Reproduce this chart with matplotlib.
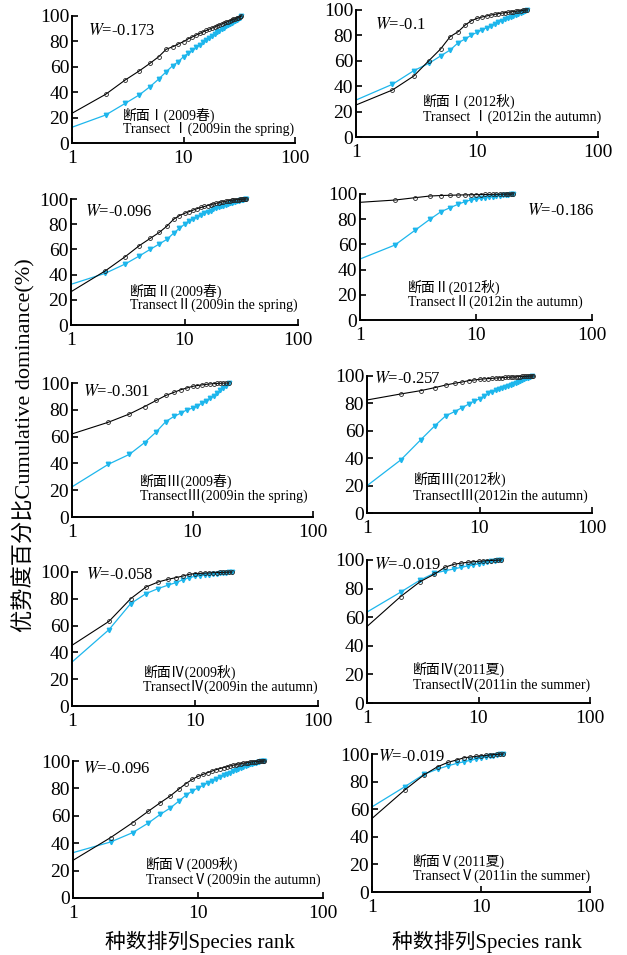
import numpy as np
import matplotlib.pyplot as plt

plt.rcParams['font.family'] = ['Liberation Serif', 'Noto Sans CJK SC']
plt.rcParams['mathtext.fontset'] = 'stix'

# ---- data: cumulative dominance (%) by species rank ----
black_1 = [23.4, 38.3, 49.6, 56.7, 62.7, 68.0, 73.8, 75.8, 78.0, 79.8, 82.0, 83.5, 85.0, 86.3, 87.5,
           88.6, 89.6, 90.5, 91.4, 92.2, 93.0, 93.7, 94.4, 95.0, 95.6, 96.2, 96.8, 97.3, 97.8, 98.3,
           98.8, 99.2, 100.0]
cyan_1 = [12.4, 22.0, 31.2, 37.8, 44.3, 50.4, 56.1, 60.9, 64.0, 68.0, 70.6, 73.0, 75.2, 77.3, 79.2,
          81.0, 82.7, 84.3, 85.8, 87.2, 88.5, 89.7, 90.8, 91.8, 92.8, 93.7, 94.6, 95.4, 96.2, 97.0,
          97.9, 98.8, 100.0]

black_2 = [25.2, 37.0, 48.0, 60.1, 69.3, 79.0, 83.0, 88.2, 91.6, 93.4, 94.5, 95.3, 96.0, 96.6, 97.1,
           97.5, 97.9, 98.2, 98.5, 98.8, 99.0, 99.3, 99.5, 99.7, 99.9, 100.0]
cyan_2 = [29.1, 41.5, 52.2, 58.0, 63.8, 68.5, 74.3, 77.2, 80.3, 82.4, 84.3, 86.0, 87.6, 89.0, 90.3,
          91.5, 92.6, 93.6, 94.5, 95.4, 96.3, 97.1, 97.9, 98.6, 99.3, 100.0]

black_3 = [26.4, 42.9, 54.2, 63.0, 68.8, 73.5, 78.5, 83.8, 86.8, 88.6, 90.0, 91.3, 92.4, 93.3, 94.1,
           94.8, 95.5, 96.1, 96.6, 97.1, 97.5, 97.9, 98.2, 98.5, 98.8, 99.0, 99.2, 99.4, 99.5, 99.6,
           99.7, 99.8, 99.9, 100.0, 100.0]
cyan_3 = [32.3, 41.0, 48.4, 54.8, 60.1, 64.3, 68.0, 72.8, 76.7, 79.9, 82.8, 84.5, 86.0, 87.4, 88.6,
          89.7, 90.7, 91.7, 92.6, 93.4, 94.1, 94.8, 95.4, 96.0, 96.5, 97.0, 97.5, 97.9, 98.3, 98.7,
          99.0, 99.3, 99.6, 99.8, 100.0]

black_4 = [93.4, 95.2, 97.1, 98.4, 98.8, 99.0, 99.2, 99.3, 99.4, 99.5, 99.6, 99.65, 99.7, 99.75,
           99.8, 99.85, 99.9, 99.93, 99.96, 99.98, 100.0]
cyan_4 = [48.4, 59.5, 71.4, 79.9, 86.0, 89.2, 91.8, 93.9, 95.2, 96.0, 96.6, 97.1, 97.5, 97.9, 98.3,
          98.6, 98.9, 99.2, 99.5, 99.8, 100.0]

black_5 = [62.0, 70.7, 76.9, 82.4, 87.0, 90.7, 93.0, 95.0, 96.3, 97.5, 98.1, 98.6, 99.0, 99.3, 99.5,
           99.7, 99.8, 99.9, 100.0, 100.0]
cyan_5 = [22.5, 39.3, 46.8, 55.5, 63.5, 71.2, 75.0, 77.5, 80.0, 81.2, 83.0, 85.0, 86.7, 88.7, 90.5,
          92.5, 94.5, 96.3, 98.0, 100.0]

black_6 = [82.5, 86.9, 89.3, 91.5, 93.4, 94.7, 95.6, 96.6, 97.1, 97.6, 97.9, 98.1, 98.3, 98.5, 98.7,
           98.85, 99.0, 99.1, 99.2, 99.3, 99.4, 99.5, 99.6, 99.7, 99.75, 99.8, 99.85, 99.9, 99.95, 100.0]
cyan_6 = [19.9, 38.8, 53.4, 63.6, 70.9, 74.0, 76.9, 79.4, 81.8, 83.2, 85.4, 87.4, 88.6, 89.6, 90.5,
          91.4, 92.2, 93.0, 93.7, 94.4, 95.1, 95.8, 96.5, 97.1, 97.7, 98.3, 98.9, 99.4, 100.0]

black_7 = [45.3, 63.2, 80.1, 88.8, 92.5, 94.5, 95.8, 97.0, 98.3, 98.8, 99.0, 99.2, 99.3, 99.45, 99.55,
           99.65, 99.75, 99.85, 99.95, 100.0]
cyan_7 = [32.8, 57.0, 76.4, 83.9, 87.6, 90.1, 92.1, 94.3, 95.8, 96.8, 97.3, 97.7, 98.1, 98.4, 98.7,
          99.0, 99.3, 99.5, 99.8, 100.0]

black_8 = [53.5, 74.4, 84.9, 90.0, 94.9, 97.0, 97.8, 98.4, 98.8, 99.1, 99.3, 99.5, 99.65, 99.8, 99.9,
           100.0]
cyan_8 = [63.6, 77.5, 86.0, 90.7, 92.5, 93.7, 94.9, 95.8, 96.6, 97.3, 97.9, 98.5, 99.0, 99.4, 99.7,
          100.0]

black_9 = [27.5, 44.1, 55.0, 63.3, 69.6, 74.5, 79.4, 83.5, 86.6, 88.8, 90.3, 91.6, 92.7, 93.7, 94.5,
           95.2, 95.8, 96.4, 96.9, 97.4, 97.8, 98.1, 98.4, 98.7, 98.9, 99.1, 99.3, 99.45, 99.6, 99.7,
           99.8, 99.9, 99.95, 100.0]
cyan_9 = [33.1, 40.9, 47.7, 54.7, 61.1, 65.7, 70.6, 75.0, 78.1, 80.3, 82.3, 84.0, 85.6, 87.0, 88.3,
          89.5, 90.6, 91.6, 92.5, 93.4, 94.2, 95.0, 95.7, 96.4, 97.0, 97.6, 98.1, 98.5, 98.9, 99.2,
          99.5, 99.7, 99.9, 100.0]

black_10 = [53.3, 74.0, 84.9, 90.8, 94.0, 95.7, 97.3, 97.8, 98.3, 98.7, 99.0, 99.3, 99.55, 99.75,
            99.9, 100.0]
cyan_10 = [61.7, 76.3, 85.3, 89.1, 91.5, 93.2, 94.4, 95.4, 96.3, 97.0, 97.7, 98.3, 98.8, 99.3, 99.7,
           100.0]

black_series = [black_1, black_2, black_3, black_4, black_5, black_6, black_7, black_8, black_9, black_10]
cyan_series = [cyan_1, cyan_2, cyan_3, cyan_4, cyan_5, cyan_6, cyan_7, cyan_8, cyan_9, cyan_10]

w_values = ["-0.173", "-0.1", "-0.096", "-0.186", "-0.301", "-0.257", "-0.058", "-0.019", "-0.096", "-0.019"]
cn_labels = ["断面Ⅰ(2009春)", "断面Ⅰ(2012秋)", "断面Ⅱ(2009春)", "断面Ⅱ(2012秋)", "断面Ⅲ(2009春)",
             "断面Ⅲ(2012秋)", "断面Ⅳ(2009秋)", "断面Ⅳ(2011夏)", "断面Ⅴ(2009秋)", "断面Ⅴ(2011夏)"]
en_labels = ["Transect Ⅰ(2009in the spring)", "Transect Ⅰ(2012in the autumn)",
             "TransectⅡ(2009in the spring)", "TransectⅡ(2012in the autumn)",
             "TransectⅢ(2009in the spring)", "TransectⅢ(2012in the autumn)",
             "TransectⅣ(2009in the autumn)", "TransectⅣ(2011in the summer)",
             "TransectⅤ(2009in the autumn)", "TransectⅤ(2011in the summer)"]

# ---- layout (pixels): left, right, y of 100, y of 0 ----
W_PX, H_PX = 627, 955
boxes = [(72, 295, 16, 143), (356, 598, 10, 137),
         (71, 298, 199, 325), (360, 592, 194, 320),
         (72, 313, 383, 517), (367, 592, 376, 513),
         (72, 318, 572, 706), (367, 590, 560, 703),
         (73, 323, 761, 898), (372, 590, 754, 892)]
# text anchors in axes coords: W label, label line 1, label line 2
w_pos = [(0.07, 0.88), (0.08, 0.88), (0.06, 0.9), (0.72, 0.865), (0.044, 0.93),
         (0.03, 0.98), (0.057, 0.975), (0.03, 0.965), (0.041, 0.944), (0.029, 0.98)]
lab_pos = [(0.23, 0.22, 0.108), (0.275, 0.283, 0.16), (0.26, 0.27, 0.159), (0.208, 0.256, 0.14),
           (0.282, 0.268, 0.155), (0.206, 0.248, 0.126), (0.29, 0.254, 0.142), (0.205, 0.238, 0.129),
           (0.292, 0.244, 0.129), (0.187, 0.223, 0.116)]

CYAN = '#1DB6EC'

fig = plt.figure(figsize=(W_PX / 100, H_PX / 100), dpi=100)

for i in range(10):
    l, r, t, b = boxes[i]
    ax = fig.add_axes([l / W_PX, 1 - b / H_PX, (r - l) / W_PX, (b - t) / H_PX])

    cy = cyan_series[i]
    bk = black_series[i]
    ax.plot(np.arange(1, len(cy) + 1), cy, color=CYAN, lw=0.9, marker='v', ms=3.2,
            markevery=slice(1, None), clip_on=False)
    ax.plot(np.arange(1, len(bk) + 1), bk, color='black', lw=0.8, marker='o', ms=2.8,
            mfc='none', mec='#222222', mew=0.6, markevery=slice(1, None), clip_on=False)

    ax.set_xscale('log')
    ax.set_xlim(1, 100)
    ax.set_ylim(0, 100)
    ax.set_xticks([1, 10, 100])
    ax.set_xticklabels(['1', '10', '100'])
    ax.xaxis.set_minor_locator(plt.NullLocator())
    ax.set_yticks([0, 20, 40, 60, 80, 100])
    ax.tick_params(direction='in', length=4, width=1.2, labelsize=14, pad=2)
    ax.tick_params(axis='x', pad=5)
    for s in ['top', 'right']:
        ax.spines[s].set_visible(False)
    for s in ['left', 'bottom']:
        ax.spines[s].set_linewidth(1.4)

    ax.text(w_pos[i][0], w_pos[i][1], r'$W$=' + w_values[i], transform=ax.transAxes,
            fontsize=12, ha='left', va='center')
    ax.text(lab_pos[i][0], lab_pos[i][1], cn_labels[i], transform=ax.transAxes,
            fontsize=10, ha='left', va='center')
    ax.text(lab_pos[i][0], lab_pos[i][2], en_labels[i], transform=ax.transAxes,
            fontsize=10, ha='left', va='center')

fig.text(200 / W_PX, 1 - 942 / H_PX, '种数排列Species rank', fontsize=15, ha='center', va='center')
fig.text(487 / W_PX, 1 - 942 / H_PX, '种数排列Species rank', fontsize=15, ha='center', va='center')
fig.text(24 / W_PX, 1 - 445 / H_PX, '优势度百分比Cumulative dominance(%)', fontsize=16,
         rotation=90, ha='center', va='center')

fig.savefig('out.png', dpi=100)
